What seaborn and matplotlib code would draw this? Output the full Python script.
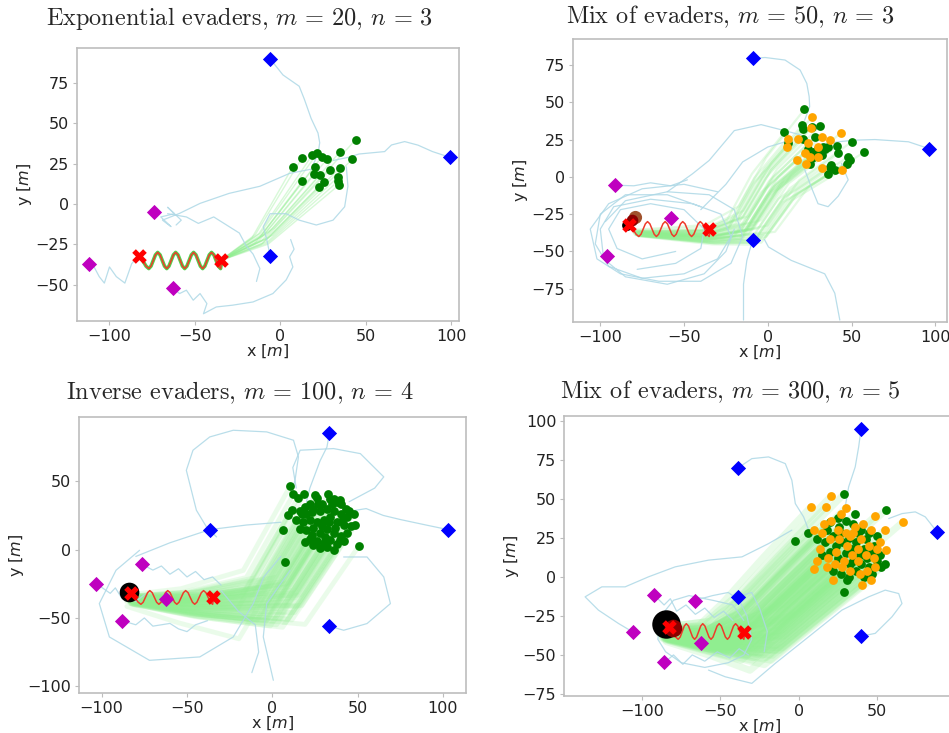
import numpy as np
import pandas as pd
import matplotlib
matplotlib.use("Agg")
import matplotlib.pyplot as plt
from matplotlib.patches import Rectangle
import seaborn as sns

# ---- dati --------------------------------------------------------------
# traiettoria del pursuer (onda rossa), uguale nei quattro pannelli
wave_x = [-82.0, -80.3, -78.6,
          -77.0, -75.7, -74.4, -73.1, -71.8, -70.4, -69.1, -67.8,
          -66.5, -65.2, -63.9, -62.6, -61.3, -59.9, -58.6, -57.3,
          -56.0, -54.7, -53.4, -52.1, -50.8, -49.4, -48.1, -46.8,
          -45.5, -44.2, -42.9, -41.6, -40.3, -38.9, -37.6, -36.3,
          -35.0, -34.6]
wave_y = [-33.0, -35.5, -38.5,
          -40.0, -38.5, -35.0, -31.5, -30.0, -31.5, -35.0, -38.5,
          -40.0, -38.5, -35.0, -31.5, -30.0, -31.5, -35.0, -38.5,
          -40.0, -38.5, -35.0, -31.5, -30.0, -31.5, -35.0, -38.5,
          -40.0, -38.5, -35.0, -31.5, -30.0, -31.5, -35.0, -38.5,
          -40.0, -37.0]
trap_start = (-83.0, -32.0)
trap_end = (-35.0, -35.0)

# --- pannello 1: Exponential evaders, m = 20, n = 3
p1_blue = [(-6, 90), (99, 29), (-6, -32)]
p1_magenta = [(-74, -5), (-112, -37), (-63, -52)]
p1_green = [(7.3, 23.2), (12.8, 28.8), (12.8, 14.3), (18.7, 30.4), (20.0, 23.2),
            (19.4, 18.6), (21.6, 31.5), (24.3, 29.4), (23.3, 18.0), (22.6, 10.8),
            (25.3, 13.9), (27.2, 27.7), (28.8, 21.1), (35.0, 32.5), (35.0, 22.6),
            (33.7, 16.6), (34.3, 11.8), (42.1, 27.7), (44.0, 39.8), (33.7, 14.0)]
p1_orange = []
p1_cyan = [
    [(-6, 90), (1.5, 80), (11, 73), (14, 65), (18, 53), (22, 44), (23, 38), (22, 31), (19, 24)],
    [(99, 29), (89, 32.5), (80.5, 36.5), (72.7, 38.7), (65, 36.6), (61, 32.5), (46, 31),
     (40, 29), (31, 27)],
    [(20, 22), (5.4, 19), (-12, 11), (-30, 6.6), (-47, 0.4), (-59, -5.8), (-69, -10),
     (-64, -14), (-70, -8), (-62, -6), (-66, -2), (-58, -10), (-61, -13)],
    [(-110, -37), (-106, -45), (-103, -49), (-100, -39), (-96, -45), (-91, -49),
     (-87, -37), (-84, -33)],
    [(-63, -52), (-59, -55.5), (-55, -53.4), (-51, -59.6), (-47, -55.5), (-43, -61.7),
     (-45, -68), (-37.5, -63.8), (-28, -62.7), (-16, -60.7), (-4.4, -55.5), (3.4, -47),
     (7.3, -39), (5.4, -32.7), (8, -28), (6, -22)],
    [(38.6, 23), (39.5, 11), (37.6, -1.7), (30.8, -10), (21, -13), (11, -10), (3.4, -6),
     (-6, -6), (-10, -14), (-8, -22), (-6, -32)],
    [(-66, -6), (-55, -8), (-48, -12), (-39, -8), (-30, -14), (-24, -18), (-20, -26),
     (-16, -31), (-12, -40), (-14, -48)],
]
p1_route = [(-35, -35, 0.0), (-10, -21, 0.35)]
p1_captured = []

# --- pannello 2: Mix of evaders, m = 50, n = 3
p2_blue = [(-9, 79.4), (96, 19), (-9, -42)]
p2_magenta = [(-91, -5.6), (-96, -53), (-58, -27.5)]
p2_green = [(21.9, 45.2), (20.7, 34.7), (21.3, 31.8), (26.2, 33.6), (31.2, 34.0),
            (9.9, 29.8), (12.3, 22.4), (21.3, 25.7), (28.2, 26.8), (24.3, 19.0),
            (27.2, 16.8), (33.2, 20.1), (36.2, 20.1), (41.2, 20.6), (50.1, 23.5),
            (57.7, 16.6), (42.1, 15.7), (48.1, 13.4), (49.1, 11.2), (47.1, 8.9),
            (37.2, 6.7), (36.2, 2.2), (25.2, 8.9), (26.2, 12.3), (32.2, 14.5),
            (34.2, 19.0), (29.2, 17.9), (40.2, 4.5), (37.8, 7.8)]
p2_orange = [(26.6, 40.3), (25.8, 32.6), (32.2, 26.8), (11.9, 25.7), (11.3, 20.1),
             (18.3, 25.7), (37.2, 24.6), (43.7, 29.5), (30.2, 20.1), (24.3, 22.4),
             (22.3, 15.7), (22.7, 8.9), (17.3, 11.6), (32.2, 5.6), (44.1, 4.5),
             (25.2, 13.4), (30.2, 13.4)]
p2_cyan = [
    [(-9, 79.4), (-1.6, 80), (10.3, 78.3), (19.3, 71.6), (23.3, 62.6), (24.7, 53.7),
     (25, 47), (22, 38)],
    [(96, 19), (84, 23.5), (64, 25), (52, 24.6), (42, 23.5), (34, 22)],
    [(-9, -42), (-12.5, -56), (-14.5, -72), (-14.5, -96)],
    [(-2, -42), (0.4, -47), (14, -56), (34, -65), (40, -78), (43, -96)],
    [(-40, -20), (-60, -12), (-85, -12), (-100, -25), (-103, -45), (-95, -60), (-75, -68),
     (-50, -65), (-30, -55), (-22, -40), (-28, -25), (-45, -18), (-70, -15), (-92, -20),
     (-100, -35), (-98, -55), (-85, -67), (-60, -72), (-38, -65), (-25, -50), (-20, -35)],
    [(-30, -10), (-50, -5), (-75, -8), (-95, -18), (-106, -35), (-102, -55), (-88, -65),
     (-65, -70), (-40, -70), (-22, -58), (-15, -40), (-20, -22), (-35, -12), (-60, -10),
     (-85, -16), (-97, -30)],
    [(-55, -50), (-75, -55), (-90, -48), (-95, -35), (-88, -22), (-70, -18), (-50, -22),
     (-38, -35), (-40, -48), (-55, -58), (-78, -62)],
    [(-60, -10), (-45, 2), (-35, 11), (-20, 31), (-4, 35), (10, 31), (20, 28)],
    [(-40, -22), (-25, -5), (-15, 10), (0, 20), (12, 24)],
    [(44, 9), (48, -2), (42, -13), (36, -20), (30, -18), (26, -7), (22, 5)],
    [(-91, -5.6), (-80, -6), (-70, -4), (-58, -6), (-48, -2)],
]
p2_route = [(-78, -38, 0.1), (-35, -40, 0.3), (-12, -35, 0.6), (5, -5, 0.7)]
p2_captured = [(-84, -32, 60, "black"), (-79, -27, 90, "sienna"), (-81, -29, 70, "darkred")]

# --- pannello 3: Inverse evaders, m = 100, n = 4
p3_blue = [(33.5, 85.4), (103, 14.6), (-36.7, 14.6), (33.5, -56)]
p3_magenta = [(-76.3, -10.7), (-103.3, -24.9), (-88.2, -52.4), (-62.2, -36.3)]
p3_green = [(10.4, 46.3), (12.4, 40.5), (18.6, 40.5), (25.1, 39.8), (32.9, 41), (35.9, 37.3),
            (39.8, 36.1), (11.4, 28.8), (17.3, 26.3), (23.1, 27.6), (29, 33.7), (47.6, 26.3),
            (48.6, 17.8), (50.6, 2.4), (6.5, 14.6), (7.5, -9.3), (19.2, 5.6), (24.1, 5.6),
            (39.8, 6.8), (15, 38), (22, 33), (26, 38), (34, 37), (38, 35), (40, 33),
            (43, 30), (16, 28), (20, 26), (24, 30), (28, 28), (32, 30), (36, 28), (40, 26),
            (44, 24), (14, 22), (18, 20), (22, 22), (26, 20), (30, 22), (34, 24), (38, 20),
            (42, 18), (46, 17), (16, 15), (20, 14), (24, 16), (28, 12), (32, 15), (36, 12),
            (40, 10), (44, 12), (22, 8), (26, 6), (30, 5), (34, 7), (38, 4), (42, 6),
            (24, 3), (28, 1), (32, 2), (36, 0), (9, 25), (27, 33), (33, 20), (37, 16),
            (23, 11), (29, 17), (35, 33), (19, 31), (41, 21), (45, 28), (31, 9)]
p3_orange = []
p3_cyan = [
    [(33.5, 85.4), (32, 75), (28, 65), (25, 55), (22, 45), (20, 35)],
    [(103, 14.6), (90, 18), (75, 22), (65, 25), (55, 30), (45, 28)],
    [(45, 35), (60, 45), (65.3, 53.2), (51.6, 70.2), (35.9, 73.9), (16.3, 72.7),
     (12, 60), (14, 45)],
    [(10.4, 38.5), (13.3, 50.7), (15.3, 67.8), (12.4, 80), (-3.3, 86.1), (-22.9, 87.3),
     (-36.7, 82.4), (-46.5, 72.7), (-50.4, 58), (-44.5, 28.8), (-38.6, 16.6), (-32.7, 9.3)],
    [(-77.8, -0.5), (-91.6, -15.1), (-101.4, -39.5), (-95.5, -63.9), (-72, -81),
     (-42.5, -78.5), (-22.9, -63.9), (-11.2, -39.5), (-5, -20), (5, -5)],
    [(10.4, -15.1), (-3.3, -39.5), (-5.3, -63.9), (0.6, -95.6)],
    [(41.8, -5.4), (55.5, -5.4), (65.3, -20), (69.2, -39.5), (55.5, -54.1), (41.8, -59),
     (33.5, -56)],
    [(-103, -25), (-95, -32), (-92, -28), (-88, -36), (-84, -30), (-80, -38), (-75, -33)],
    [(-76, -11), (-70, -15), (-65, -12), (-60, -18), (-55, -14), (-50, -20), (-45, -16),
     (-40, -22), (-35, -20), (-30, -26)],
    [(-88, -52), (-80, -55), (-75, -50), (-70, -56), (-60, -54), (-55, -58), (-50, -60),
     (-45, -55), (-38, -52)],
    [(-80, -5), (-60, 5), (-36.7, 14.6), (-15, 18), (5, 20)],
    [(-30, -30), (-20, -45), (-10, -55), (-8, -75), (-12, -90)],
]
p3_route = [(-82, -37, 0.15), (-45, -40, 0.45), (0, -38, 0.9)]
p3_captured = [(-84, -31, 200, "black")]

# --- pannello 4: Mix of evaders, m = 300, n = 5
p4_blue = [(39.9, 94.5), (-38.8, 69.7), (88.5, 28.8), (-39, -12.8), (39.9, -38)]
p4_magenta = [(-92.3, -11.7), (-66.5, -15.4), (-106, -35.6), (-85.9, -54.6), (-62.3, -42.2)]
p4_green = [(29, 53), (56, 43), (-2, 23), (29, -10), (6, 28), (20, 35), (25, 38), (30, 36),
            (35, 34), (40, 30), (45, 28), (50, 26), (12, 24), (17, 22), (22, 26), (27, 28),
            (32, 25), (37, 22), (42, 18), (47, 16), (52, 14), (55, 8), (15, 14), (20, 16),
            (25, 12), (30, 15), (35, 10), (40, 8), (45, 6), (50, 10), (53, 6), (22, 4),
            (27, 2), (32, 0), (37, 4), (42, 0), (47, 2), (24, 20), (34, 18), (44, 12),
            (48, 20), (38, 28), (28, 22), (18, 30), (33, 8), (39, 14), (26, 32), (43, 24),
            (31, -2), (36, 40)]
p4_orange = [(8, 45), (17.5, 45), (21, 52), (66.5, 35), (40.5, -5.5), (49, 39), (56, 17.5),
             (10, 5), (10, 30), (15, 28), (20, 24), (25, 30), (30, 28), (35, 28), (40, 24),
             (45, 20), (50, 18), (14, 18), (19, 12), (24, 16), (29, 10), (34, 14), (38, 18),
             (43, 14), (48, 12), (52, 22), (18, 6), (23, 8), (28, 6), (33, 4), (38, 10),
             (44, 4), (49, 6), (26, 24), (36, 32), (31, 20), (41, 34), (46, 30), (21, 36),
             (16, 34), (12, 10), (27, 40), (33, 26), (39, 2), (46, -2), (22, -2), (55, 30),
             (30, 44)]
p4_cyan = [
    [(39.9, 94.5), (38.4, 83.2), (36.2, 70.4), (32, 57.6), (29.8, 44.8)],
    [(-38.8, 69.7), (-29.9, 75.7), (-19.2, 76.8), (-8.5, 72.5), (-4.3, 61.8), (-2.1, 46.9),
     (3.2, 38.4), (6.4, 29.9)],
    [(88.5, 28.8), (81, 38.4), (74.6, 41.6), (66.1, 40.5), (57.6, 37.3)],
    [(39.9, -38), (49, -36.2), (59.7, -25.6), (66.1, -17.1), (64, -10.7), (55.4, -8.5),
     (44.8, -12.8), (27.7, -21.3), (6.4, -38.4), (-14.9, -55.4), (-29.9, -68.2),
     (-46.9, -64), (-57.6, -59.7)],
    [(-4.3, 29.9), (-19.2, 21.3), (-36.2, 12.8), (-57.6, 10.7), (-78.9, 6.4), (-96, 0),
     (-110.9, -6.4), (-125.8, -6.4), (-136.5, -12.8), (-128, -21.3), (-115.1, -29.9),
     (-104.5, -36.2)],
    [(-66, -15), (-55, -12), (-45, -10), (-38, -15), (-33, -25), (-30, -40), (-35, -50),
     (-45, -55), (-60, -58), (-75, -55), (-85, -48), (-90, -40), (-88, -25), (-80, -15),
     (-70, -12), (-55, -15), (-42, -18), (-35, -28)],
    [(-92, -12), (-86, -18), (-82, -14), (-78, -22), (-72, -18), (-66, -24), (-60, -20),
     (-54, -26), (-48, -22), (-42, -28)],
    [(-86, -55), (-80, -50), (-74, -56), (-68, -50), (-60, -54), (-52, -48), (-44, -52),
     (-38, -46), (-32, -50)],
    [(-39, -12.8), (-30, -10), (-25, -20), (-20, -35), (-22, -48)],
]
p4_route = [(-84, -37, 0.15), (-55, -40, 0.35), (-28, -36, 0.8), (0, -10, 0.9)]
p4_captured = [(-85, -30, 420, "black"), (-80, -33, 160, "darkred")]

panels = [
    dict(title=r"Exponential evaders, $m\,=\,20$, $n\,=\,3$", tpos=(240, 18),
         rect=(77, 48, 459, 321), xlim=(-119, 104.5), ylim=(-72.5, 96.7),
         xticks=[-100, -50, 0, 50, 100], yticks=[-50, -25, 0, 25, 50, 75],
         blue=p1_blue, magenta=p1_magenta, green=p1_green, orange=p1_orange,
         cyan=p1_cyan, route=p1_route, captured=p1_captured, band=(1.0, 0.35),
         halo=True),
    dict(title=r"Mix of evaders, $m\,=\,50$, $n\,=\,3$", tpos=(730, 17),
         rect=(573, 39, 947, 322), xlim=(-116.3, 107), ylim=(-97.3, 92.4),
         xticks=[-100, -50, 0, 50, 100], yticks=[-75, -50, -25, 0, 25, 50, 75],
         blue=p2_blue, magenta=p2_magenta, green=p2_green, orange=p2_orange,
         cyan=p2_cyan, route=p2_route, captured=p2_captured, band=(1.6, 0.25),
         halo=False),
    dict(title=r"Inverse evaders, $m\,=\,100$, $n\,=\,4$", tpos=(240, 393),
         rect=(79, 417, 466, 693), xlim=(-113.3, 113.5), ylim=(-104.9, 97),
         xticks=[-100, -50, 0, 50, 100], yticks=[-100, -50, 0, 50],
         blue=p3_blue, magenta=p3_magenta, green=p3_green, orange=p3_orange,
         cyan=p3_cyan, route=p3_route, captured=p3_captured, band=(3.5, 0.18),
         halo=False),
    dict(title=r"Mix of evaders, $m\,=\,300$, $n\,=\,5$", tpos=(730, 392),
         rect=(564, 416, 955, 696), xlim=(-150, 100), ylim=(-76.3, 103),
         xticks=[-100, -50, 0, 50], yticks=[-75, -50, -25, 0, 25, 50, 75, 100],
         blue=p4_blue, magenta=p4_magenta, green=p4_green, orange=p4_orange,
         cyan=p4_cyan, route=p4_route, captured=p4_captured, band=(5.0, 0.2),
         halo=False),
]

# ---- stile --------------------------------------------------------------
sns.set_style("white")
plt.rcParams.update({
    "axes.edgecolor": "#bdbdbd",
    "axes.linewidth": 1.2,
    "xtick.bottom": True, "ytick.left": True,
    "xtick.color": "#bdbdbd", "ytick.color": "#bdbdbd",
    "xtick.labelcolor": "#222222", "ytick.labelcolor": "#222222",
    "xtick.major.size": 3, "ytick.major.size": 3,
    "xtick.major.pad": 2.5, "ytick.major.pad": 2.5,
    "xtick.labelsize": 11.5, "ytick.labelsize": 11.5,
})
plt.rcParams["font.family"] = ["DejaVu Sans"]

W, H = 949, 733


def path_frame(paths):
    rows = [(i, x, y) for i, p in enumerate(paths) for x, y in p]
    return pd.DataFrame(rows, columns=["id", "x", "y"])


def route_frame(evaders, route):
    # ogni evader parte dalla trappola e segue il corridoio verso la sua posizione finale
    pts = np.array(evaders, dtype=float)
    centre = pts.mean(axis=0)
    rows = []
    for i, (ex, ey) in enumerate(pts):
        dx, dy = ex - centre[0], ey - centre[1]
        for wx, wy, k in route:
            rows.append((i, wx + k * dx, wy + k * dy))
        rows.append((i, ex, ey))
    return pd.DataFrame(rows, columns=["id", "x", "y"])


def xy(points):
    a = np.array(points, dtype=float).reshape(-1, 2)
    return a[:, 0], a[:, 1]


fig = plt.figure(figsize=(W / 100, H / 100), dpi=100)

for p in panels:
    l, t, r, b = p["rect"]
    ax = fig.add_axes([l / W, 1 - b / H, (r - l) / W, (b - t) / H])

    evaders = p["green"] + p["orange"]
    band_lw, band_alpha = p["band"]
    sns.lineplot(data=route_frame(evaders, p["route"]), x="x", y="y", units="id",
                 estimator=None, sort=False, color="lightgreen",
                 lw=band_lw, alpha=band_alpha, ax=ax, zorder=1)
    sns.lineplot(data=path_frame(p["cyan"]), x="x", y="y", units="id", estimator=None,
                 sort=False, color="lightblue", lw=0.9, alpha=0.85, ax=ax, zorder=2)

    # onda del pursuer (nel primo pannello ha un bordo verde)
    if p["halo"]:
        ax.plot(wave_x, wave_y, color="#4fd34f", lw=2.6, zorder=3)
    ax.plot(wave_x, wave_y, color="#ee3b2b", lw=1.1, zorder=4)

    bx, by = xy(p["blue"])
    sns.scatterplot(x=bx, y=by, marker="D", s=60, color="blue", linewidth=0, ax=ax, zorder=6)
    mx, my = xy(p["magenta"])
    sns.scatterplot(x=mx, y=my, marker="D", s=60, color="m", linewidth=0, ax=ax, zorder=6)
    gx, gy = xy(p["green"])
    sns.scatterplot(x=gx, y=gy, s=40, color="green", linewidth=0, ax=ax, zorder=5)
    if p["orange"]:
        ox, oy = xy(p["orange"])
        sns.scatterplot(x=ox, y=oy, s=40, color="orange", linewidth=0, ax=ax, zorder=5)
    for cx, cy, cs, cc in p["captured"]:
        ax.scatter([cx], [cy], s=cs, color=cc, linewidth=0, zorder=7)

    sx, sy = xy([trap_start, trap_end])
    sns.scatterplot(x=sx, y=sy, marker="X", s=110, color="red", linewidth=0, ax=ax, zorder=8)

    ax.set_xlim(*p["xlim"])
    ax.set_ylim(*p["ylim"])
    ax.set_xticks(p["xticks"])
    ax.set_yticks(p["yticks"])
    ax.set_xlabel("x [$m$]", fontsize=11.5, labelpad=-1, math_fontfamily="dejavusans")
    ax.set_ylabel("y [$m$]", fontsize=11.5, labelpad=1, math_fontfamily="dejavusans")
    for s in ax.spines.values():
        s.set_visible(True)

    fig.text(p["tpos"][0] / W, 1 - p["tpos"][1] / H, p["title"], ha="center", va="center",
             fontsize=17.5, family="cmr10", math_fontfamily="cm")

# il pannello in alto a sinistra e' ritagliato a destra
fig.patches.append(Rectangle((466 / W, 0.5), 10 / W, 0.5, transform=fig.transFigure,
                             color="white", zorder=20))

fig.savefig("out.png", dpi=100)
